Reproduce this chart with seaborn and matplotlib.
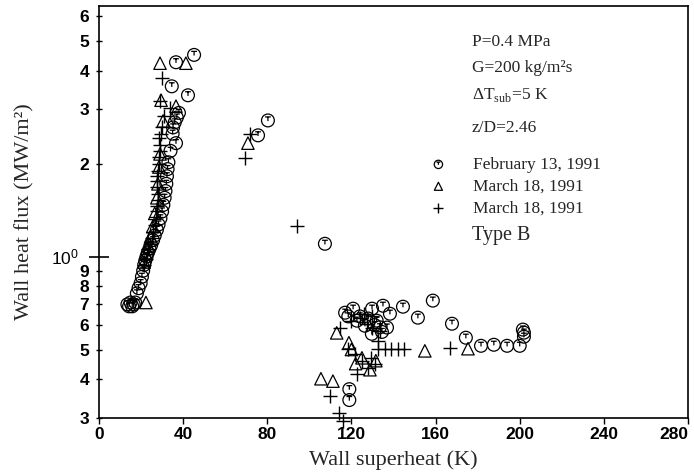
import numpy as np
import pandas as pd
import matplotlib
matplotlib.use("Agg")
import matplotlib.pyplot as plt
import seaborn as sns
from matplotlib.path import Path
from matplotlib.ticker import NullLocator
from matplotlib import font_manager

# ---------------- data ----------------
feb_x = [13.5, 14.3, 15.0, 15.8, 16.5, 17.2, 18.0, 18.8, 19.8, 20.4, 21.0, 21.5, 22.0, 22.6,
         23.2, 24.0, 24.8, 25.7, 26.5, 27.5, 28.3, 29.2, 30.0, 30.6, 31.2, 31.6, 32.0, 32.3,
         32.6, 33.0, 34.0, 36.6, 35.0, 35.2, 36.0, 37.0, 38.0, 42.3, 34.6, 36.6, 45.2,
         75.6, 80.3, 107.4,
         117.0, 118.5, 120.8, 122.6, 124.0, 126.4, 128.0, 129.8, 129.7, 131.0, 132.0, 133.5,
         135.0, 136.9, 138.3, 134.5, 144.5, 151.6, 158.7, 167.8, 174.4, 181.6, 187.7, 194.0,
         200.0, 202.0, 202.0, 201.5, 119.0, 119.0]
feb_y = [0.70, 0.69, 0.71, 0.69, 0.70, 0.71, 0.76, 0.79, 0.82, 0.86, 0.90, 0.94, 0.97, 1.00,
         1.03, 1.06, 1.09, 1.13, 1.17, 1.22, 1.27, 1.33, 1.40, 1.47, 1.55, 1.63, 1.72, 1.82,
         1.92, 2.02, 2.20, 2.33, 2.50, 2.62, 2.72, 2.82, 2.92, 3.33, 3.56, 4.26, 4.50,
         2.47, 2.76, 1.10,
         0.658, 0.64, 0.678, 0.62, 0.64, 0.597, 0.63, 0.678, 0.562, 0.60, 0.62, 0.59,
         0.693, 0.589, 0.653, 0.57, 0.688, 0.634, 0.72, 0.606, 0.546, 0.514, 0.518, 0.514,
         0.514, 0.567, 0.55, 0.58, 0.372, 0.343]

tri_x = [22.3, 29.0, 41.3, 29.5, 36.6, 30.5, 29.0, 28.5, 28.0, 27.5, 26.5, 25.5, 24.5, 23.5,
         22.5, 21.5,
         70.8,
         113.0, 118.8, 120.0, 125.0, 128.8, 131.6, 154.9, 105.5, 111.2, 175.4, 122.0]
tri_y = [0.71, 4.23, 4.23, 3.21, 3.07, 2.75, 2.15, 1.95, 1.72, 1.55, 1.38, 1.25, 1.16, 1.08,
         1.02, 0.96,
         2.33,
         0.566, 0.526, 0.50, 0.47, 0.43, 0.46, 0.495, 0.402, 0.395, 0.503, 0.45]

plus_x = [29.9, 29.2, 33.7, 31.0, 30.0, 29.5, 28.5, 29.0, 29.0, 28.5, 28.5, 28.0, 27.8, 27.5,
          27.8, 28.0, 28.0, 27.8, 27.5, 27.3, 26.5, 25.7, 25.0, 24.2, 23.5, 22.8, 22.2, 21.5,
          71.8, 69.4, 94.0,
          114.5, 118.3, 121.7, 125.0, 127.8, 122.6, 109.8, 114.2, 115.8, 124.0, 127.4, 130.0,
          133.5, 132.6, 132.6, 136.0, 139.0, 142.0, 145.0, 166.8, 126.0, 130.0, 120.0, 131.0,
          129.5]
plus_y = [3.78, 3.20, 3.02, 2.85, 2.62, 2.50, 2.43, 2.30, 2.20, 2.10, 2.00, 1.90, 1.82, 1.76,
          1.68, 1.60, 1.52, 1.46, 1.40, 1.34, 1.27, 1.20, 1.15, 1.10, 1.06, 1.02, 0.98, 0.94,
          2.50, 2.08, 1.26,
          0.588, 0.503, 0.484, 0.46, 0.436, 0.417, 0.354, 0.312, 0.293, 0.634, 0.606, 0.588,
          0.575, 0.534, 0.503, 0.503, 0.503, 0.503, 0.503, 0.506, 0.65, 0.64, 0.62, 0.45,
          0.47]

series_labels = ["February 13, 1991", "March 18, 1991", "March 18, 1991"]
x_ticks = [0, 40, 80, 120, 160, 200, 240, 280]
y_minor_ticks = [0.3, 0.4, 0.5, 0.6, 0.7, 0.8, 0.9, 2, 3, 4, 5, 6]
y_minor_labels = ["3", "4", "5", "6", "7", "8", "9", "2", "3", "4", "5", "6"]
info_lines = ["P=0.4 MPa", "G=200 kg/m²s", r"ΔT$_{\mathrm{sub}}$=5 K", "z/D=2.46"]

# ---------------- style ----------------
sns.set_theme(style="ticks")
plt.rcParams['font.family'] = ['Liberation Serif', 'DejaVu Serif']
plt.rcParams['mathtext.fontset'] = 'custom'
plt.rcParams['mathtext.rm'] = 'Liberation Serif'
plt.rcParams['mathtext.sf'] = 'Liberation Sans'
plt.rcParams['axes.edgecolor'] = 'black'
plt.rcParams['xtick.color'] = 'black'
plt.rcParams['ytick.color'] = 'black'

names = {f.name for f in font_manager.fontManager.ttflist}
tickfont = 'Liberation Sans Narrow' if 'Liberation Sans Narrow' in names else 'Liberation Sans'

fig = plt.figure(figsize=(6.94, 4.76), dpi=100)
ax = fig.add_axes([0.14265, 0.12185, 0.8487, 0.86554])

# circle-with-T marker
circle = Path.unit_circle()
bar = Path([(-0.45, 0.55), (0.45, 0.55)], [Path.MOVETO, Path.LINETO])
stem = Path([(0.0, 0.55), (0.0, -0.1)], [Path.MOVETO, Path.LINETO])
circT = Path.make_compound_path(circle, bar, stem)

df_feb = pd.DataFrame({"x": feb_x, "y": feb_y})
df_tri = pd.DataFrame({"x": tri_x, "y": tri_y})
df_plus = pd.DataFrame({"x": plus_x, "y": plus_y})

sns.scatterplot(data=df_feb, x="x", y="y", ax=ax, marker=circT, s=85,
                facecolors="none", edgecolor="black", linewidth=0.9,
                label=series_labels[0], clip_on=False, zorder=3)
sns.scatterplot(data=df_tri, x="x", y="y", ax=ax, marker="^", s=80,
                facecolors="none", edgecolor="black", linewidth=0.9,
                label=series_labels[1], clip_on=False, zorder=3)
sns.scatterplot(data=df_plus, x="x", y="y", ax=ax, marker="+", s=110,
                color="black", linewidth=1.0,
                label=series_labels[2], clip_on=False, zorder=3)

ax.set_yscale("log")
ax.set_xlim(0, 280)
ax.set_ylim(0.3, 6.48)

ax.set_xticks(x_ticks, labels=[str(t) for t in x_ticks])
ax.xaxis.set_minor_locator(NullLocator())
ax.set_yticks([1], labels=[r"$\mathsf{10^0}$"])
ax.set_yticks(y_minor_ticks, labels=y_minor_labels, minor=True)

ax.tick_params(axis="y", which="major", direction="inout", length=15, width=1.2,
               pad=7, labelsize=12.5)
ax.tick_params(axis="y", which="minor", direction="inout", length=5, width=1.0,
               pad=4.5, labelsize=12.5)
ax.tick_params(axis="x", which="major", direction="out", length=4.5, width=1.0,
               pad=2, labelsize=12.5)
ax.tick_params(top=False, right=False)
for lab in ax.get_xticklabels() + ax.get_yticklabels(minor=True):
    lab.set_fontfamily(tickfont)
    lab.set_fontweight("bold")
ax.get_xticklabels()[-1].set_horizontalalignment("right")

for sp in ax.spines.values():
    sp.set_visible(True)
    sp.set_linewidth(1.2)
    sp.set_color("black")

ax.set_xlabel("Wall superheat (K)", fontsize=16, labelpad=6)
ax.set_ylabel("Wall heat flux (MW/m²)", fontsize=16, labelpad=12)

# info text block
info_y = [0.913, 0.850, 0.784, 0.704]
for txt, yy in zip(info_lines, info_y):
    ax.text(0.633, yy, txt, transform=ax.transAxes, fontsize=12.5, va="center", ha="left")

leg = ax.legend(loc="upper left", bbox_to_anchor=(0.5615, 0.634), frameon=False,
                fontsize=12.5, handlelength=1.0, handletextpad=1.5, labelspacing=0.33,
                borderpad=0, borderaxespad=0, markerscale=0.65)
ax.text(0.633, 0.444, "Type B", transform=ax.transAxes, fontsize=14.5, va="center", ha="left")

fig.savefig("out.png", dpi=100, facecolor="white")
